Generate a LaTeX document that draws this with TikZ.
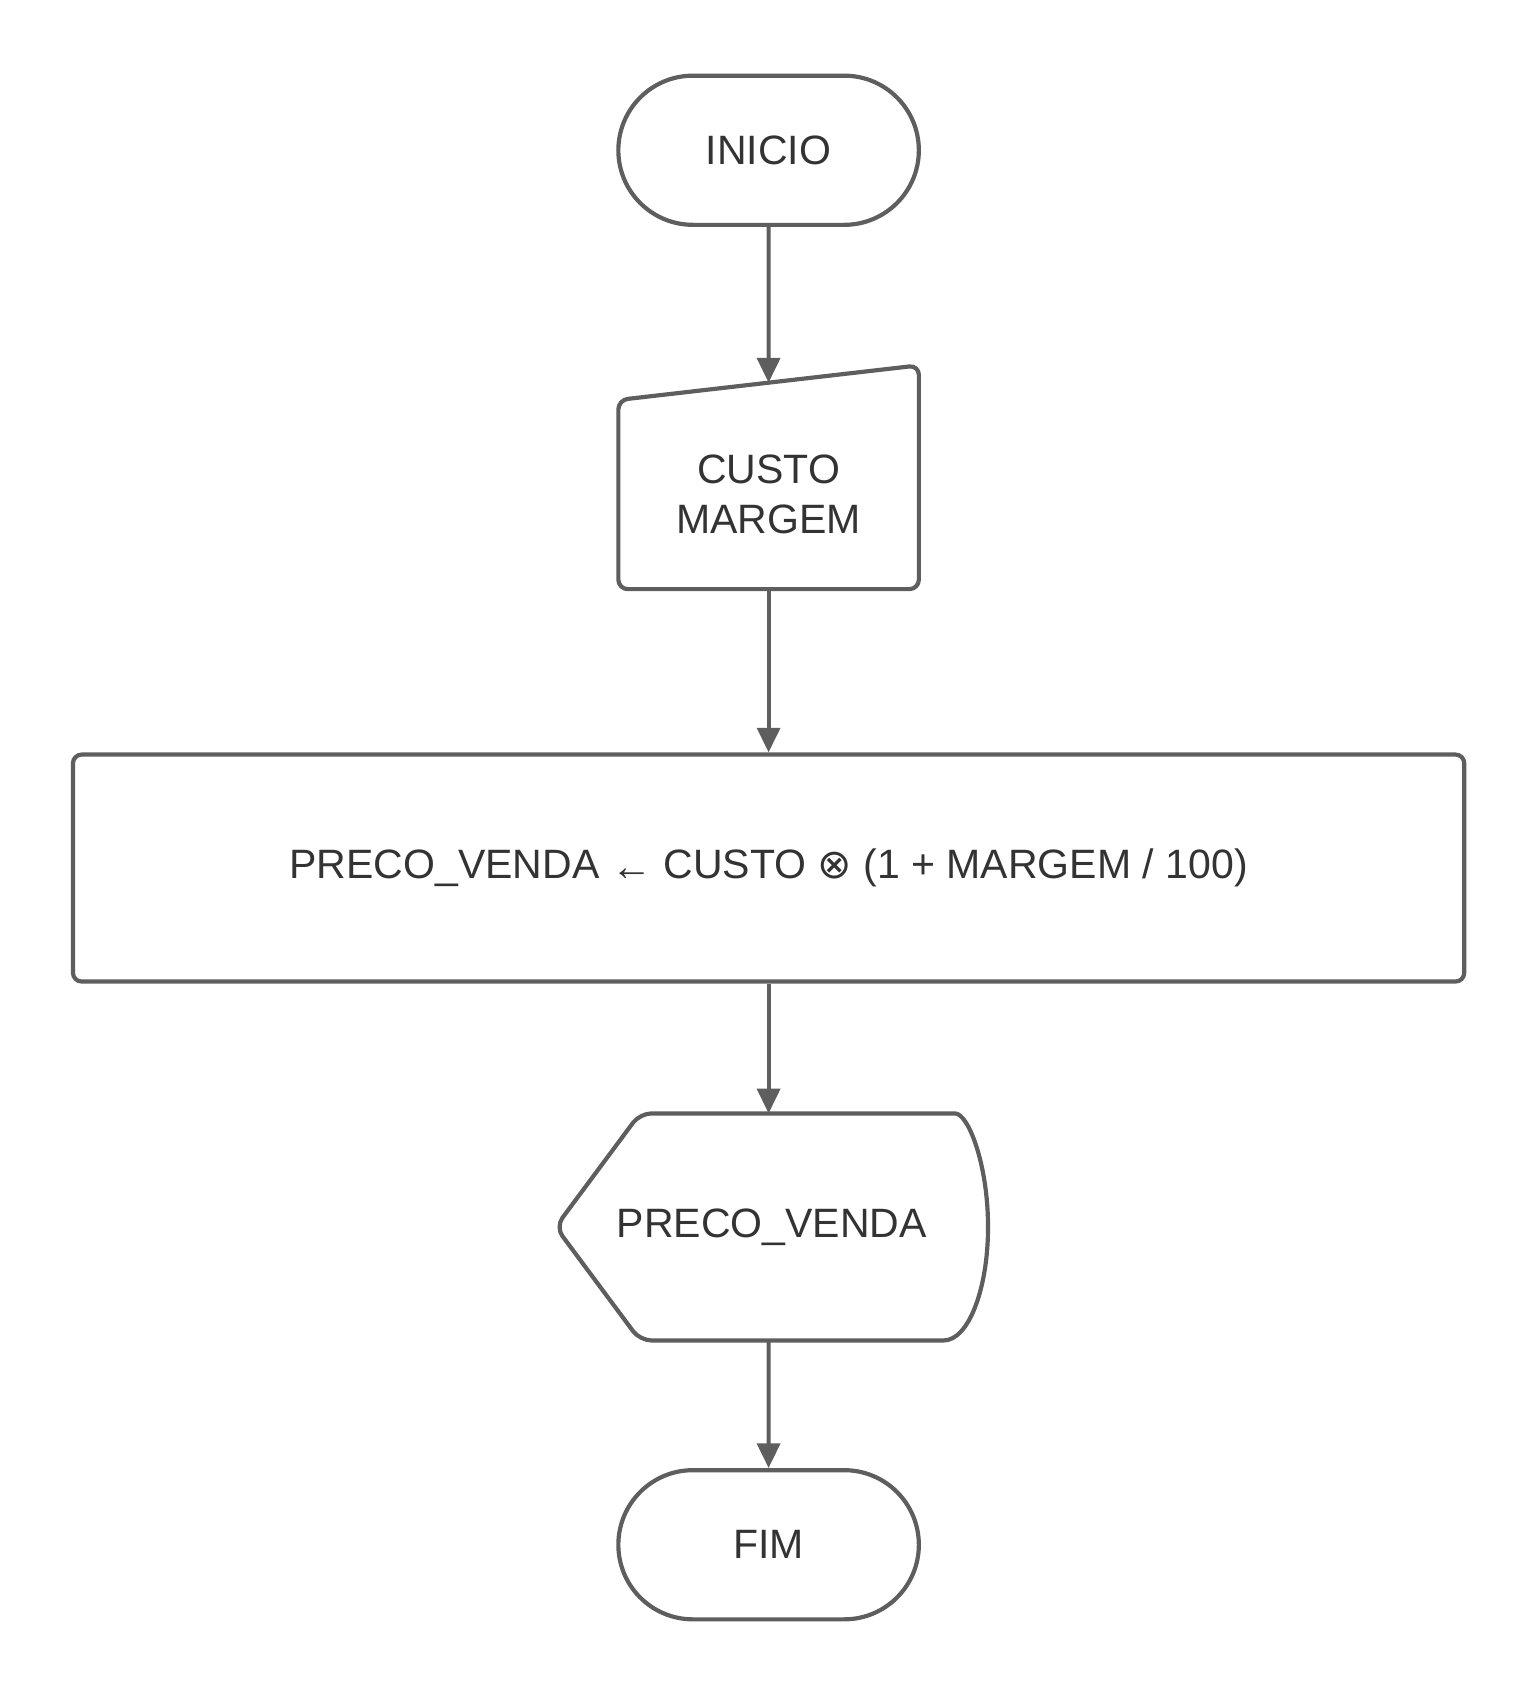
\documentclass[tikz,border=0pt]{standalone}
\usepackage{fontspec}
\setmainfont{Liberation Sans}
\newfontfamily\symbolfont{DejaVu Sans}
\usetikzlibrary{arrows.meta,shapes.misc,calc}

\definecolor{linegray}{HTML}{5E5E5E}
\definecolor{textgray}{HTML}{333333}

\begin{document}
\begin{tikzpicture}[>={Triangle[width=6pt,length=6.5pt]},
  every block/.style={line width=1.1pt, draw=linegray, text=textgray,
    font=\fontsize{10.8}{13}\selectfont, align=center, inner sep=0pt},
  terminal/.style={every block, rounded rectangle, minimum width=2.78cm, minimum height=1.38cm},
  process/.style={every block, rectangle, rounded corners=2.3pt, minimum width=12.87cm, minimum height=2.1cm},
  io/.style={every block, draw=none, rectangle, outer sep=0pt},
  outline/.style={line width=1.1pt, draw=linegray, line join=round},
  flow/.style={line width=1.1pt, draw=linegray, fill=linegray, ->}]

\useasboundingbox (0,0) rectangle (14.22,-15.68);

\node [terminal] (inicio) at (7.11,-1.39) {INICIO};
\node [io, minimum width=2.78cm, minimum height=1.75cm] (entrada) at (7.11,-4.575) {CUSTO\\MARGEM};
\node [process] (calculo) at (7.11,-8.03)
  {PRECO\_VENDA \raisebox{-0.4pt}{←} CUSTO {\symbolfont ⊗} (1 + MARGEM / 100)};
\node [io, minimum width=4cm, minimum height=2.1cm] (saida) at (7.14,-11.35) {PRECO\_VENDA};
\node [terminal] (fim) at (7.11,-14.29) {FIM};

% manual input
\draw [outline, rounded corners=2.5pt] (entrada.north west) -- ($(entrada.north east)+(0,0.32)$)
  -- (entrada.south east) -- (entrada.south west) -- cycle;
\coordinate (entrada-in) at ($(entrada.north)+(0,0.16)$);

% display
\draw [outline] ($(saida.north east)+(-0.41,0)$) arc [start angle=90, end angle=-90, x radius=0.41, y radius=1.05]
  [rounded corners=3pt] -- ($(saida.south west)+(0.78,0)$) -- (saida.west)
  -- ($(saida.north west)+(0.78,0)$) -- cycle;
\coordinate (calculo-out) at (calculo.south);
\coordinate (saida-in) at (calculo.south |- saida.north);
\coordinate (saida-out) at (fim.north |- saida.south);

\foreach \a/\b in {inicio/entrada-in, entrada/calculo, calculo-out/saida-in, saida-out/fim}
  \draw [flow] (\a) -- (\b);

\end{tikzpicture}
\end{document}
